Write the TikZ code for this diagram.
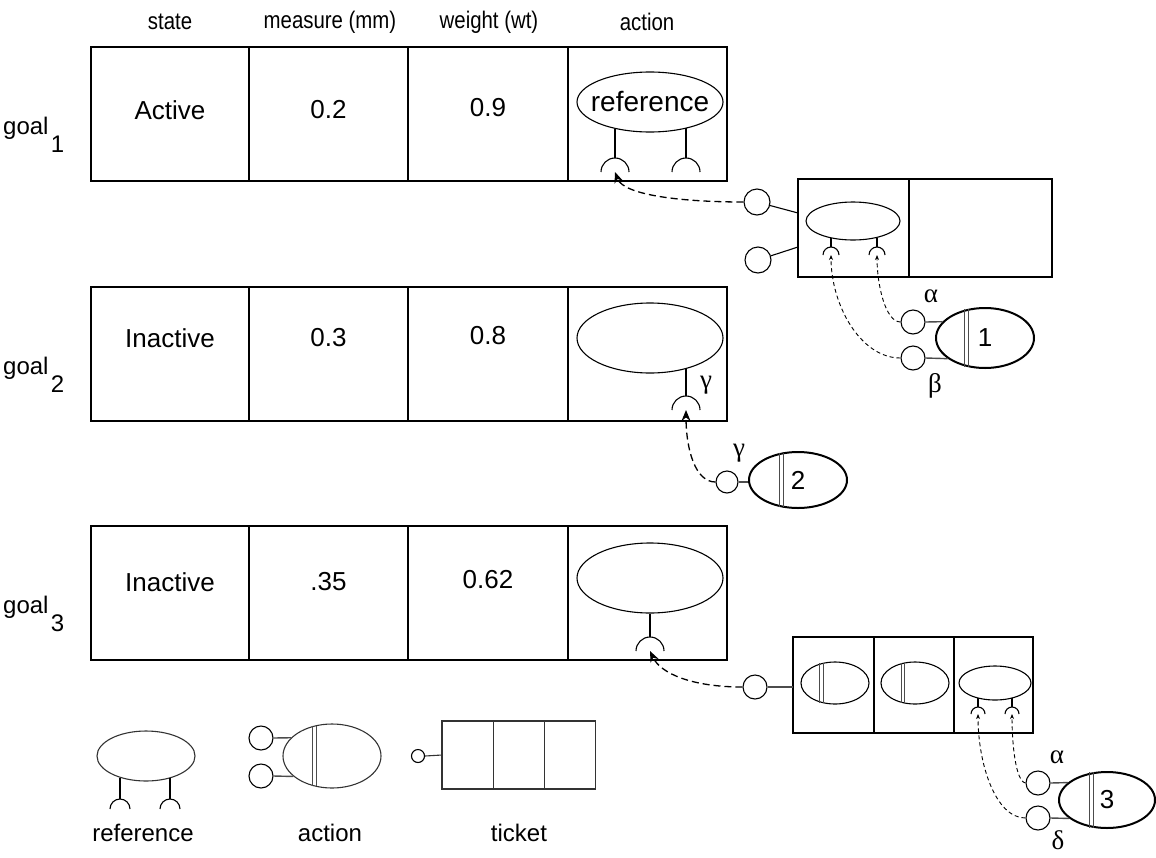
\documentclass[tikz,border=0pt]{standalone}
\usepackage{fontspec}
\setmainfont{Liberation Sans}
\newfontfamily\headfont[FakeStretch=0.85]{Liberation Sans}
\newfontfamily\grfont{Liberation Serif}
\usetikzlibrary{positioning,arrows.meta,shapes.geometric}
% socket: name, centre, radius
\newcommand{\socket}[3]{%
  \coordinate (#1) at (#2);
  \draw[stem] (#1) ++(-#3,0) arc[start angle=180, end angle=360, radius=#3];}
% double bar: ellipse node, upper angle, lower angle
\newcommand{\dbar}[3]{%
  \draw[dbl] ([xshift=-1.8pt]#1.#2) -- ([xshift=-1.8pt]#1.#3)
             ([xshift=1.8pt]#1.#2) -- ([xshift=1.8pt]#1.#3);}

\begin{document}
\begin{tikzpicture}[x=1pt, y=-1pt,
  cell/.style={draw, line width=2, minimum height=134, inner sep=0, outer sep=0, anchor=north west},
  head/.style={font=\headfont\fontsize{24}{26}\selectfont},
  val/.style={font=\fontsize{26}{30}\selectfont, inner sep=0},
  goal/.style={font=\fontsize{24}{26}\selectfont, inner sep=0},
  leglab/.style={font=\fontsize{24}{26}\selectfont, inner sep=0},
  gr/.style={font=\grfont\fontsize{27}{30}\selectfont, inner sep=0},
  refell/.style={ellipse, draw, line width=1.1, inner sep=0, fill=white},
  actell/.style={ellipse, draw, line width=2, inner sep=0, font=\fontsize{26}{30}\selectfont},
  port/.style={circle, draw, line width=1.1, minimum size=24, inner sep=0},
  stem/.style={line width=1.1},
  link/.style={line width=1.4, draw=black!70},
  dbl/.style={line width=1.1, draw=black!70},
  tbox/.style={draw, line width=2, inner sep=0, outer sep=0},
  lbox/.style={draw, line width=1.1, draw=black!80, inner sep=0, outer sep=0, minimum width=51.3, minimum height=68},
  arr/.style={dash pattern=on 7pt off 4pt, line width=1.3, -{Stealth[length=11pt, width=9pt]}},
  tarr/.style={dash pattern=on 4pt off 3pt, line width=0.9, -{Stealth[length=5pt, width=4pt]}},
  leg/.style={line width=1.1, draw=black!80}
]
\useasboundingbox (0,0) rectangle (1156,857);

% header
\node[head] (h1) at (170,22) {state};
\node[head] (h2) at (330,22) {measure (mm)};
\node[head] (h3) at (489,22) {weight (wt)};
\node[head] (h4) at (647,22) {action};

% goal table
\foreach \r/\y/\ty/\st/\me/\wt in {1/47/110/Active/0.2/0.9, 2/287/338/Inactive/0.3/0.8, 3/526/582/Inactive/.35/0.62}{
  \node[cell, minimum width=158] (st\r) at (91,\y) {};
  \node[cell, minimum width=159] (me\r) at (249,\y) {};
  \node[cell, minimum width=160] (wt\r) at (408,\y) {};
  \node[cell, minimum width=159] (ac\r) at (568,\y) {};
  \node[val] (vs\r) at (st\r |- 0,\ty) {\st};
  \node[val] (vm\r) at (me\r |- 0,\ty) {\me};
  \node[val] (vw\r) at ([yshift=2pt]wt\r |- 0,\ty) {\wt};
  \node[goal, anchor=base west] (g\r) at (3,\y+87) {goal};
  \node[goal, anchor=base west] (gn\r) at ([xshift=2pt, yshift=-18pt]g\r.base east) {\r};
}

% row 1 reference
\node[refell, minimum width=146, minimum height=60] (r1) at (650,102) {};
\node[val, font=\fontsize{28}{30}\selectfont] (r1t) at (r1) {reference};
\socket{s1a}{615,172}{14}
\socket{s1b}{686,172}{14}
\draw[stem] (r1.216 -| s1a) -- ([yshift=14pt]s1a);
\draw[stem] (r1.325 -| s1b) -- ([yshift=14pt]s1b);

% row 2 reference
\node[refell, minimum width=146, minimum height=70] (r2) at (650,338) {};
\socket{s2}{686,410}{14}
\draw[stem] (r2.320 -| s2) -- ([yshift=14pt]s2);
\node[gr] (r2g) at (706,385) {γ};

% row 3 reference
\node[refell, minimum width=146, minimum height=70] (r3) at (650,578) {};
\socket{s3}{650,651}{14}
\draw[stem] (r3.south) -- ([yshift=14pt]s3);

% ticket 1
\node[tbox, minimum width=111, minimum height=98, anchor=north west] (t1a) at (798,179) {};
\node[tbox, minimum width=143, minimum height=98, right=0pt of t1a] (t1b) {};
\node[refell, minimum width=94, minimum height=38] (t1e) at (853,221) {};
\socket{u1a}{831,255}{8}
\socket{u1b}{877,255}{8}
\draw[stem] (t1e.217 -| u1a) -- ([yshift=8pt]u1a);
\draw[stem] (t1e.326 -| u1b) -- ([yshift=8pt]u1b);
\node[port, minimum size=26] (q1) at (757,202) {};
\node[port, minimum size=26] (q2) at (758,260) {};
\draw[stem] (q1.-15) -- (t1a.west |- 0,213);
\draw[stem] (q2.18) -- (t1a.west |- 0,247);
\draw[arr] (q1.west) to[out=180, in=-70, out distance=60pt, in distance=25pt] (s1a);

% action 1
\node[actell, minimum width=98, minimum height=60] (a1) at (985,338) {1};
\dbar{a1}{123}{237}
\node[port] (p1a) at (913,322) {};
\node[port] (p1b) at (913,358) {};
\draw[link] (p1a.east) -- (a1.159);
\draw[link] (p1b.east) -- (a1.209);
\node[gr] (p1al) at (931,296) {α};
\node[gr] (p1bl) at (935,386) {β};
\draw[tarr] (p1a.west) to[out=180, in=-90, out distance=15pt, in distance=30pt] (u1b);
\draw[tarr] (p1b.west) to[out=180, in=-90, out distance=40pt, in distance=50pt] (u1a);

% action 2
\node[actell, minimum width=98, minimum height=56] (a2) at (798,480) {2};
\dbar{a2}{121}{239}
\node[port, minimum size=22] (p2) at (727,482) {};
\draw[link] (p2.east) -- (a2.west |- p2);
\node[gr] (p2l) at (739,453) {γ};
\draw[arr] (p2.west) to[out=180, in=-90, out distance=20pt, in distance=40pt] (s2);

% ticket 3
\node[tbox, minimum width=81, minimum height=96, anchor=north west] (t3a) at (793,637) {};
\node[tbox, minimum width=80, minimum height=96, right=0pt of t3a] (t3b) {};
\node[tbox, minimum width=79, minimum height=96, right=0pt of t3b] (t3c) {};
\node[refell, minimum width=68, minimum height=42] (e3a) at (835,683) {};
\dbar{e3a}{124}{236}
\node[refell, minimum width=68, minimum height=42] (e3b) at (915,683) {};
\dbar{e3b}{121}{239}
\node[refell, minimum width=72, minimum height=34] (e3c) at (995,683) {};
\socket{v3a}{978,714}{7}
\socket{v3b}{1012,714}{7}
\draw[stem] (e3c.221 -| v3a) -- ([yshift=7pt]v3a);
\draw[stem] (e3c.319 -| v3b) -- ([yshift=7pt]v3b);
\node[port] (p3) at (755,687) {};
\draw[link] (p3.east) -- (t3a.west |- p3);
\draw[arr] (p3.west) to[out=180, in=-65, out distance=50pt, in distance=25pt] (s3);

% action 3
\node[actell, minimum width=96, minimum height=56] (a3) at (1107,800) {3};
\dbar{a3}{119}{241}
\node[port] (p3a) at (1038,783) {};
\node[port] (p3b) at (1038,818) {};
\draw[link] (p3a.east) -- (a3.156);
\draw[link] (p3b.east) -- (a3.206);
\node[gr] (p3al) at (1057,757) {α};
\node[gr] (p3bl) at (1058,840) {δ};
\draw[tarr] (p3a.west) to[out=170, in=-90, out distance=10pt, in distance=30pt] (v3b);
\draw[tarr] (p3b.west) to[out=180, in=-90, out distance=30pt, in distance=50pt] (v3a);

% legend
\node[refell, leg, minimum width=98, minimum height=50] (lr) at (146,756) {};
\socket{lra}{120,809}{10}
\socket{lrb}{170,809}{10}
\draw[stem] (lr.219 -| lra) -- ([yshift=10pt]lra);
\draw[stem] (lr.318 -| lrb) -- ([yshift=10pt]lrb);
\node[ellipse, leg, inner sep=0, minimum width=98, minimum height=64] (la) at (332,756) {};
\dbar{la}{120}{240}
\node[port] (lpa) at (261,738) {};
\node[port] (lpb) at (261,776) {};
\draw[link] (lpa.east) -- (la.156);
\draw[link] (lpb.east) -- (la.208);
\node[lbox, anchor=north west] (lt1) at (442,721) {};
\node[lbox, right=0pt of lt1] (lt2) {};
\node[lbox, right=0pt of lt2] (lt3) {};
\node[port, minimum size=13] (lpt) at (418,756) {};
\draw[leg] (lpt.east) -- (lt1.west);
\node[leglab] (ll1) at (143,833) {reference};
\node[leglab] (ll2) at (330,833) {action};
\node[leglab] (ll3) at (519,833) {ticket};
\end{tikzpicture}
\end{document}
